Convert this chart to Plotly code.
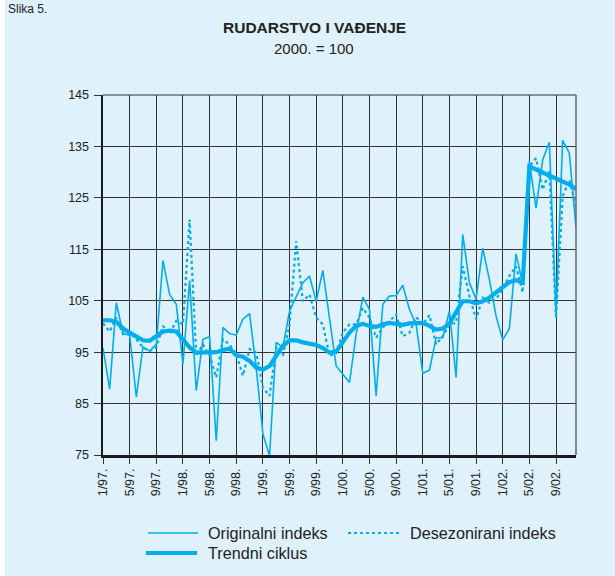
import plotly.graph_objects as go

# Monthly data, 1/97 .. 12/02 (72 months)
months = [f"{m}/{y:02d}." for y in [97, 98, 99, 0, 1, 2] for m in range(1, 13)]

original = [
    95.8, 87.8, 104.6, 98.6, 98.3, 86.3, 96.0, 95.2, 96.5, 112.8, 106.2, 104.3,
    92.7, 108.9, 87.5, 97.5, 98.0, 77.8, 99.8, 98.6, 98.3, 101.4, 102.5, 92.0,
    79.1, 74.8, 96.9, 95.9, 103.0, 105.9, 108.5, 109.8, 104.9, 110.9, 101.7, 92.3,
    90.7, 89.1, 98.5, 105.7, 103.3, 86.5, 104.3, 105.9, 106.0, 108.0, 103.3, 100.4,
    90.9, 91.5, 97.8, 97.8, 103.0, 90.1, 117.9, 108.5, 105.3, 115.2, 109.1, 102.0,
    97.4, 99.6, 114.1, 108.2, 132.1, 123.0, 132.4, 135.8, 102.5, 136.2, 133.7, 119.2,
]

deseasonalized = [
    100.6, 99.0, 101.7, 98.5, 98.8, 97.5, 95.9, 95.2, 95.9, 100.1, 98.5, 101.1,
    100.4, 120.8, 94.3, 96.5, 94.3, 90.1, 97.5, 96.5, 94.6, 90.4, 95.6, 94.9,
    88.1, 86.5, 95.9, 94.3, 100.4, 116.6, 104.9, 106.2, 101.7, 100.4, 94.3, 94.8,
    98.8, 100.4, 100.4, 103.6, 101.7, 97.8, 99.8, 101.1, 102.3, 98.1, 98.8, 101.8,
    100.4, 102.2, 96.5, 98.1, 100.4, 100.7, 111.7, 105.9, 101.4, 105.6, 104.6, 105.3,
    107.2, 109.8, 111.7, 106.6, 131.1, 132.7, 126.6, 130.2, 101.6, 125.3, 128.5, 123.4,
]

trend = [
    101.2, 101.2, 100.9, 99.6, 98.8, 98.0, 97.3, 97.2, 98.1, 99.0, 99.2, 99.0,
    97.5, 95.9, 94.9, 95.0, 94.9, 95.0, 95.4, 95.7, 94.4, 94.1, 93.3, 92.0,
    91.6, 92.3, 94.3, 96.2, 97.3, 97.3, 96.9, 96.7, 96.4, 95.8, 94.9, 95.1,
    96.9, 98.8, 100.1, 100.5, 100.1, 99.9, 100.4, 100.7, 100.5, 100.3, 100.6, 100.7,
    100.7, 100.1, 99.4, 99.6, 100.5, 102.8, 104.9, 104.9, 104.5, 104.9, 105.6, 106.6,
    107.5, 108.6, 109.0, 108.5, 131.1, 130.5, 129.8, 129.2, 128.7, 128.2, 127.6, 126.7,
]

series_names = ["Originalni indeks", "Desezonirani indeks", "Trendni ciklus"]

x_idx = list(range(len(months)))
x_tickvals = x_idx[::4]
x_ticktext = months[::4]
y_ticks = [75, 85, 95, 105, 115, 125, 135, 145]

CYAN = "#00aeef"
BG = "#dff1fb"
GRID = "#333333"
TXT = "#222222"
FONT = "Liberation Sans, Arial, sans-serif"

W, H = 615, 576
ML, MR, MT, MB = 103, 39, 95, 121
PW, PH = W - ML - MR, H - MT - MB


def px(x):
    return (x - ML) / PW


def py(y):
    return (H - MB - y) / PH


styles = [
    dict(color=CYAN, width=1.6),
    dict(color=CYAN, width=2.2, dash="dot"),
    dict(color=CYAN, width=4.2),
]

fig = go.Figure()
for name, vals, st in zip(series_names, [original, deseasonalized, trend], styles):
    fig.add_trace(go.Scatter(x=x_idx, y=vals, mode="lines", name=name,
                             line=st, showlegend=False, hoverinfo="skip"))

# manual legend (samples + labels)
legend_items = [
    (148, 198, 533, 206),
    (348, 400, 533, 408),
    (146, 197, 553, 206),
]
shapes = [
    dict(type="line", xref="paper", yref="paper", x0=0, x1=1, y0=1, y1=1,
         line=dict(color=GRID, width=1)),
    dict(type="line", xref="paper", yref="paper", x0=1, x1=1, y0=0, y1=1,
         line=dict(color="#666666", width=1.5)),
    dict(type="rect", xref="paper", yref="paper", x0=px(-20), x1=px(5),
         y0=py(H + 20), y1=py(-20), fillcolor="white", line=dict(width=0), layer="below"),
]
annotations = [
    dict(text="<b>RUDARSTVO I VAĐENJE</b>", xref="paper", yref="paper",
         x=px(314), y=py(27), xanchor="center", yanchor="middle",
         showarrow=False, font=dict(size=15.5, color=TXT)),
    dict(text="2000. = 100", xref="paper", yref="paper",
         x=px(314), y=py(48), xanchor="center", yanchor="middle",
         showarrow=False, font=dict(size=15, color=TXT)),
    dict(text="Slika 5.", xref="paper", yref="paper",
         x=px(6), y=py(0), xanchor="left", yanchor="top",
         showarrow=False, font=dict(size=12, color=TXT)),
]
for (x0, x1, yy, tx), name, st in zip(legend_items, series_names, styles):
    shapes.append(dict(type="line", xref="paper", yref="paper",
                       x0=px(x0), x1=px(x1), y0=py(yy), y1=py(yy), line=st))
    annotations.append(dict(text=name, xref="paper", yref="paper",
                            x=px(tx), y=py(yy), xanchor="left", yanchor="middle",
                            showarrow=False, font=dict(size=16.2, color=TXT)))

fig.update_layout(
    width=W, height=H,
    margin=dict(l=ML, r=MR, t=MT, b=MB, pad=0, autoexpand=False),
    paper_bgcolor=BG, plot_bgcolor=BG,
    font=dict(family=FONT, color=TXT, size=12),
    showlegend=False,
    hovermode=False,
    xaxis=dict(range=[0, 71], tickvals=x_tickvals, ticktext=x_ticktext,
               tickangle=-90, tickfont=dict(size=12.5), showgrid=True,
               gridcolor=GRID, gridwidth=1, ticks="outside", ticklen=6,
               tickcolor=GRID, showline=True, linecolor="#1a1a1a", linewidth=2.5,
               zeroline=False, fixedrange=True, automargin=False),
    yaxis=dict(range=[75, 145], tickvals=y_ticks, showgrid=True,
               gridcolor=GRID, gridwidth=1, ticks="outside", ticklen=7,
               tickcolor=GRID, showline=True, linecolor="#1a1a1a", linewidth=2.5,
               zeroline=False, tickfont=dict(size=12.5), fixedrange=True,
               automargin=False, ticklabelstandoff=2),
    shapes=shapes,
    annotations=annotations,
)

fig.write_html(
    "out.html",
    config={"displayModeBar": False, "staticPlot": True},
    post_script="document.body.style.margin='0';document.body.style.overflow='hidden';"
                "document.documentElement.style.background='#dff1fb';",
)
